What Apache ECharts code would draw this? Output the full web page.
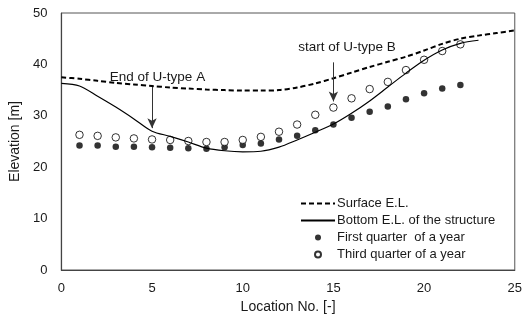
<!DOCTYPE html>
<html>
<head>
<meta charset="utf-8">
<script src="https://cdn.jsdelivr.net/npm/echarts@6/dist/echarts.min.js"></script>
<style>
  html, body { margin: 0; padding: 0; background: #fff; }
  #chart { width: 525px; height: 320px; }
</style>
</head>
<body>
<div id="chart"></div>
<script>
// Location numbers for the longitudinal profile
const surfaceX = [0,1,2,3,4,5,6,7,8,9,10,11,12,13,14,15,16,17,18,19,20,21,22,23,24,25];
const surfaceEL = [37.5,37.2,36.8,36.4,36.1,35.8,35.5,35.3,35.1,35.0,34.9,34.9,35.0,35.5,36.3,37.3,38.4,39.5,40.5,41.5,42.7,44.0,45.0,45.6,46.1,46.6];

const bottomX = [0,1,2,3,4,5,6,7,8,9,10,11,12,13,14,15,16,17,18,19,20,21,22,23];
const bottomEL = [36.3,35.8,33.8,31.7,29.4,27.0,26.0,24.9,23.7,23.2,23.0,23.1,23.9,25.3,26.8,28.4,30.5,32.9,35.6,38.3,40.8,42.8,44.1,44.7];

// Groundwater observations at locations 1..22
const obsX = [1,2,3,4,5,6,7,8,9,10,11,12,13,14,15,16,17,18,19,20,21,22];
const firstQuarter = [24.2,24.2,24.0,24.0,23.9,23.8,23.7,23.6,23.9,24.3,24.6,25.4,26.1,27.2,28.3,29.6,30.8,31.8,33.2,34.4,35.3,36.0];
const thirdQuarter = [26.3,26.1,25.8,25.6,25.4,25.3,25.1,24.9,24.9,25.3,25.9,26.9,28.3,30.2,31.6,33.4,35.2,36.6,38.9,40.9,42.6,43.9];

const xTicks = { min: 0, max: 25, interval: 5 };
const yTicks = { min: 0, max: 50, interval: 10 };

const zip = (xs, ys) => xs.map((x, i) => [x, ys[i]]);

const FONT = 'Liberation Sans, Arial, sans-serif';
const INK = '#1a1a1a';

const chart = echarts.init(document.getElementById('chart'), null, { renderer: 'canvas' });

chart.setOption({
  animation: false,
  backgroundColor: '#ffffff',
  textStyle: { fontFamily: FONT, color: INK },
  grid: { left: 58, right: 9, top: 13, bottom: 50, show: true, borderColor: '#555', borderWidth: 1 },
  xAxis: {
    type: 'value', min: xTicks.min, max: xTicks.max, interval: xTicks.interval,
    name: 'Location No. [-]', nameLocation: 'middle', nameGap: 30,
    nameTextStyle: { fontFamily: FONT, fontSize: 14, color: INK },
    axisLine: { show: true, lineStyle: { color: '#444', width: 1.2 } },
    axisTick: { show: false },
    splitLine: { show: false },
    axisLabel: { fontFamily: FONT, fontSize: 13, color: INK, margin: 12 }
  },
  yAxis: {
    type: 'value', min: yTicks.min, max: yTicks.max, interval: yTicks.interval,
    name: 'Elevation [m]', nameLocation: 'middle', nameGap: 37,
    nameTextStyle: { fontFamily: FONT, fontSize: 14, color: INK },
    axisLine: { show: true, lineStyle: { color: '#444', width: 1.2 } },
    axisTick: { show: false },
    splitLine: { show: false },
    axisLabel: { fontFamily: FONT, fontSize: 13, color: INK, margin: 14 }
  },
  legend: {
    orient: 'vertical',
    left: 295, top: 192,
    itemWidth: 34, itemHeight: 6, itemGap: 4,
    textStyle: { fontFamily: FONT, fontSize: 13, color: INK, padding: [0, 0, 0, -3] },
    data: [
      { name: 'Surface E.L.', itemStyle: { opacity: 0 } },
      { name: 'Bottom E.L. of the structure', itemStyle: { opacity: 0 } },
      { name: 'First quarter  of a year' },
      { name: 'Third quarter of a year' }
    ]
  },
  series: [
    {
      name: 'Surface E.L.', type: 'line', smooth: 0.3, symbol: 'none',
      data: zip(surfaceX, surfaceEL),
      lineStyle: { color: '#000', width: 2, type: [5, 3] },
      itemStyle: { color: '#000' },
      markLine: {
        silent: true, symbol: ['none', 'arrow'], symbolSize: [7, 10],
        lineStyle: { color: '#333', width: 1, type: 'solid' },
        label: { show: false },
        data: [
          [{ coord: [5, 35.6] }, { coord: [5, 27.6] }],
          [{ coord: [15, 40.4] }, { coord: [15, 32.8] }]
        ]
      },
      markPoint: {
        silent: true, symbol: 'circle', symbolSize: 0,
        label: { show: true, fontFamily: FONT, fontSize: 13.5, color: INK, position: 'inside' },
        data: [
          { coord: [5.3, 37.5], value: 'End of U-type A', label: { formatter: 'End of U-type A' } },
          { coord: [15.75, 43.4], value: 'start of U-type B', label: { formatter: 'start of U-type B' } }
        ]
      }
    },
    {
      name: 'Bottom E.L. of the structure', type: 'line', smooth: 0.3, symbol: 'none',
      data: zip(bottomX, bottomEL),
      lineStyle: { color: '#000', width: 1.2 },
      itemStyle: { color: '#000' }
    },
    {
      name: 'First quarter  of a year', type: 'scatter', symbol: 'circle', symbolSize: 6.5,
      data: zip(obsX, firstQuarter),
      itemStyle: { color: '#000' }
    },
    {
      name: 'Third quarter of a year', type: 'scatter', symbol: 'circle', symbolSize: 7.5,
      data: zip(obsX, thirdQuarter),
      itemStyle: { color: '#fff', borderColor: '#000', borderWidth: 1 }
    }
  ]
});
</script>
</body>
</html>
